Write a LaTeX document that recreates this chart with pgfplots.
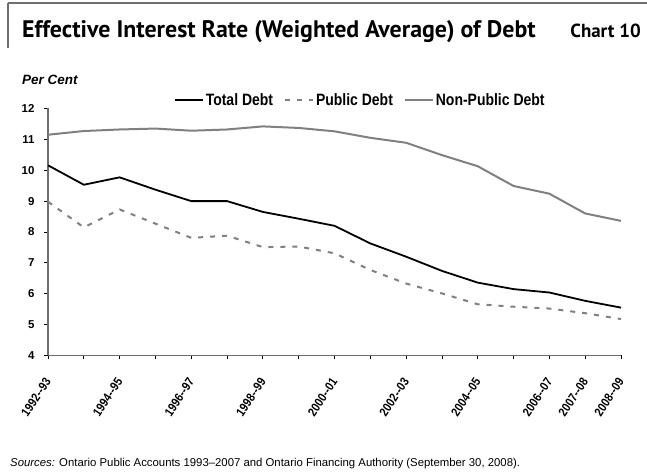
\documentclass[border=0pt]{standalone}
\usepackage{pgfplots}
\pgfplotsset{compat=1.18}
\usepackage{fontspec}
\setmainfont{Liberation Sans}
\newfontfamily\titlefont{PT Sans}
\newfontfamily\narrowfont[FakeStretch=0.85]{Liberation Sans}
\definecolor{axgray}{RGB}{110,110,110}
\definecolor{lngray}{RGB}{128,128,128}
\pgfplotstableread{
x total public nonpublic
0 10.16 8.98 11.15
1 9.53 8.15 11.27
2 9.77 8.73 11.32
3 9.37 8.27 11.35
4 9.00 7.81 11.28
5 9.00 7.88 11.32
6 8.65 7.51 11.42
7 8.43 7.53 11.37
8 8.20 7.31 11.26
9 7.63 6.77 11.05
10 7.20 6.33 10.89
11 6.74 6.01 10.49
12 6.36 5.66 10.13
13 6.15 5.58 9.49
14 6.04 5.52 9.24
15 5.77 5.37 8.60
16 5.55 5.18 8.36
}\debt
\begin{document}
\begin{tikzpicture}[x=1bp,y=1bp]
\path[use as bounding box] (0,0) rectangle (647,473);
% frame lines
\draw[axgray, line width=1.2bp] (8,470) -- (647,470);
\draw[axgray, line width=1.2bp] (8,470) -- (8,425);
\node[anchor=base west, inner sep=0pt, font=\titlefont\bfseries\fontsize{24}{28}\selectfont] at (22,435.5) {Effective Interest Rate (Weighted Average) of Debt};
\node[anchor=base east, inner sep=0pt, font=\titlefont\bfseries\fontsize{19}{22}\selectfont] at (641,435.5) {Chart 10};
\node[anchor=base west, inner sep=0pt, font=\bfseries\itshape\fontsize{13.5}{16}\selectfont] at (22,388) {Per Cent};
\node[anchor=base west, inner sep=0pt, font=\fontsize{11.4}{14}\selectfont] at (10,6) {\textit{Sources:} Ontario Public Accounts 1993--2007 and Ontario Financing Authority (September 30, 2008).};
\begin{axis}[
  at={(48bp,117.5bp)}, anchor=south west,
  scale only axis, width=573bp, height=247bp,
  xmin=0, xmax=16, ymin=4, ymax=12,
  axis lines*=left,
  axis line style={axgray, line width=1.2bp},
  every tick/.style={black, line width=0.8bp},
  tick align=outside, major tick length=4bp,
  xtick={0,...,16},
  xticklabels={1992--93,,1994--95,,1996--97,,1998--99,,2000--01,,2002--03,,2004--05,,2006--07,2007--08,2008--09},
  xticklabel style={font=\narrowfont\bfseries\fontsize{12.5}{14}\selectfont, inner sep=0pt, anchor=east, rotate=56},
  xticklabel shift=20bp,
  ytick={4,...,12},
  yticklabel style={font=\bfseries\fontsize{11.5}{13}\selectfont, xshift=-6bp},
  /pgf/number format/assume math mode=true,
  legend columns=3,
  legend style={anchor=center, draw=none, fill=none,
    at={(0.545,1.033)},
    font=\narrowfont\bfseries\fontsize{16.5}{19}\selectfont,
    /tikz/every even column/.append style={column sep=9bp},
    /tikz/every odd column/.append style={column sep=0bp}},
  legend image code/.code={\draw[#1] (0bp,0bp) -- (28bp,0bp);},
  clip=false,
]
\addplot[black, line width=1.8bp] table[x=x, y=total] {\debt};
\addlegendentry{Total Debt}
\addplot[lngray, line width=2bp, dash pattern=on 5bp off 7bp] table[x=x, y=public] {\debt};
\addlegendentry{Public Debt}
\addplot[lngray, line width=2bp] table[x=x, y=nonpublic] {\debt};
\addlegendentry{Non-Public Debt}
\end{axis}
\end{tikzpicture}
\end{document}
